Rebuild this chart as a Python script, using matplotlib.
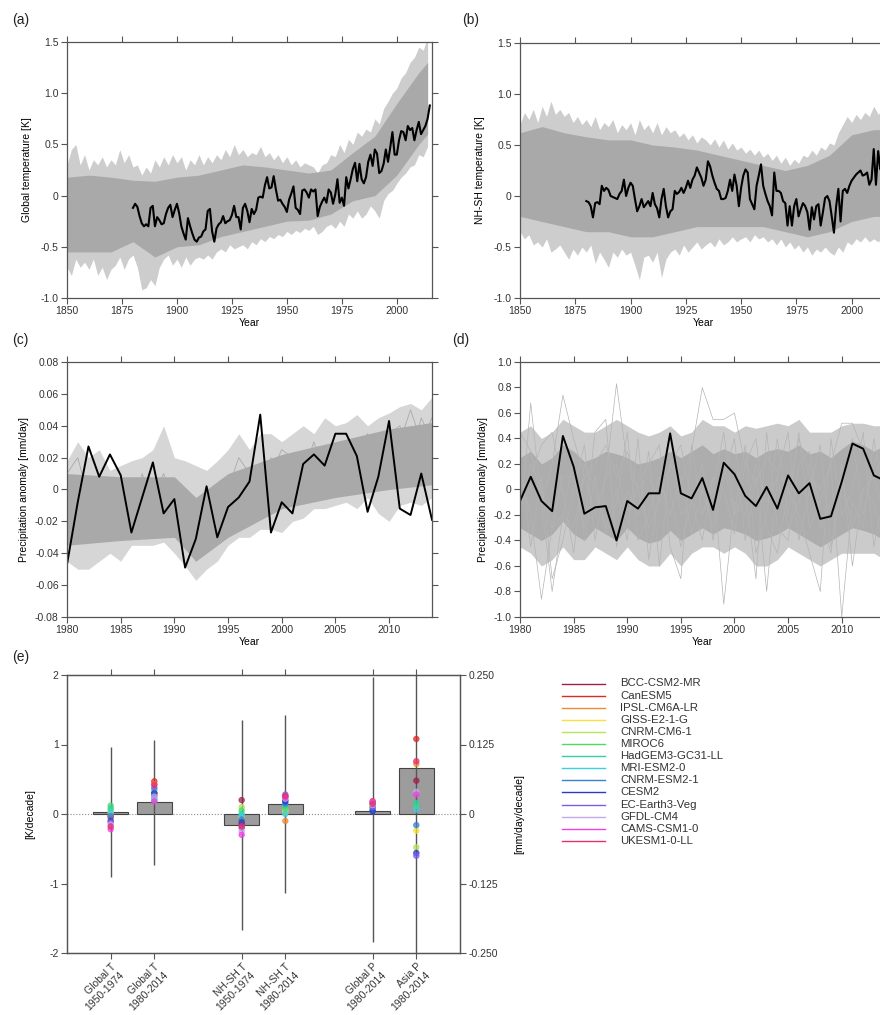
import numpy as np
import matplotlib
matplotlib.use('Agg')
import matplotlib.pyplot as plt
from matplotlib.lines import Line2D

plt.rcParams['font.family'] = ['Liberation Sans', 'DejaVu Sans']
plt.rcParams['font.size'] = 7.5
plt.rcParams['axes.unicode_minus'] = False

# ---- data: panel (a) global temperature ----
model_years = list(range(1850, 2015, 2))
obs_years = list(range(1880, 2016))
obs_a = [-0.12, -0.08, -0.11, -0.20, -0.27, -0.30, -0.28, -0.30, -0.12, -0.10,
         -0.30, -0.21, -0.24, -0.28, -0.27, -0.18, -0.12, -0.09, -0.21, -0.14,
         -0.08, -0.17, -0.30, -0.37, -0.43, -0.22, -0.30, -0.37, -0.43, -0.45,
         -0.41, -0.40, -0.35, -0.33, -0.15, -0.13, -0.35, -0.45, -0.32, -0.28,
         -0.26, -0.20, -0.27, -0.25, -0.24, -0.19, -0.10, -0.21, -0.21, -0.33,
         -0.12, -0.08, -0.15, -0.26, -0.13, -0.18, -0.14, -0.02, -0.01, -0.02,
         0.10, 0.18, 0.07, 0.08, 0.19, 0.06, -0.05, -0.04, -0.08, -0.11,
         -0.16, -0.04, 0.02, 0.09, -0.12, -0.14, -0.18, 0.05, 0.06, 0.03,
         -0.02, 0.06, 0.04, 0.06, -0.20, -0.11, -0.06, -0.02, -0.07, 0.06,
         0.03, -0.08, 0.01, 0.16, -0.07, -0.02, -0.10, 0.18, 0.07, 0.16,
         0.26, 0.32, 0.14, 0.31, 0.16, 0.12, 0.18, 0.33, 0.40, 0.29,
         0.45, 0.41, 0.22, 0.24, 0.31, 0.45, 0.33, 0.47, 0.62, 0.40,
         0.40, 0.54, 0.63, 0.62, 0.54, 0.68, 0.64, 0.66, 0.54, 0.64,
         0.72, 0.60, 0.64, 0.68, 0.75, 0.88]
hi_a = [0.30, 0.45, 0.50, 0.30, 0.40, 0.25, 0.35, 0.30, 0.38, 0.28,
        0.35, 0.30, 0.45, 0.32, 0.40, 0.28, 0.30, 0.20, 0.28, 0.22,
        0.35, 0.28, 0.38, 0.30, 0.40, 0.32, 0.38, 0.25, 0.35, 0.30,
        0.40, 0.30, 0.38, 0.32, 0.40, 0.35, 0.45, 0.38, 0.50, 0.40,
        0.45, 0.38, 0.42, 0.40, 0.48, 0.38, 0.42, 0.35, 0.40, 0.32,
        0.38, 0.30, 0.35, 0.28, 0.32, 0.30, 0.28, 0.22, 0.30, 0.32,
        0.40, 0.38, 0.50, 0.42, 0.55, 0.50, 0.62, 0.58, 0.65, 0.62,
        0.75, 0.70, 0.85, 0.92, 1.00, 1.05, 1.15, 1.20, 1.30, 1.35,
        1.45, 1.42, 1.55]
lo_a = [-0.70, -0.78, -0.62, -0.70, -0.65, -0.72, -0.62, -0.78, -0.70, -0.82,
        -0.72, -0.68, -0.60, -0.72, -0.62, -0.58, -0.70, -0.92, -0.90, -0.82,
        -0.88, -0.70, -0.62, -0.58, -0.68, -0.62, -0.70, -0.60, -0.68, -0.62,
        -0.60, -0.62, -0.58, -0.62, -0.55, -0.52, -0.55, -0.48, -0.52, -0.50,
        -0.48, -0.52, -0.45, -0.48, -0.42, -0.45, -0.40, -0.42, -0.38, -0.40,
        -0.35, -0.38, -0.34, -0.36, -0.32, -0.34, -0.30, -0.38, -0.35, -0.30,
        -0.28, -0.32, -0.25, -0.30, -0.18, -0.22, -0.15, -0.22, -0.18, -0.10,
        -0.15, -0.22, -0.05, 0.02, 0.05, 0.12, 0.18, 0.22, 0.28, 0.30,
        0.40, 0.38, 0.48]
core_years = [1850, 1860, 1870, 1880, 1890, 1900, 1910, 1920, 1930,
              1940, 1950, 1960, 1970, 1980, 1990, 2000, 2010, 2014]
core_hi_a = [0.18, 0.20, 0.18, 0.15, 0.14, 0.18, 0.20, 0.25, 0.30,
             0.28, 0.25, 0.22, 0.25, 0.42, 0.58, 0.90, 1.20, 1.30]
core_lo_a = [-0.55, -0.55, -0.55, -0.45, -0.60, -0.50, -0.48, -0.40, -0.35,
             -0.30, -0.25, -0.24, -0.18, -0.05, 0.00, 0.20, 0.50, 0.60]

# ---- data: panel (b) NH-SH temperature ----
obs_b = [-0.05, -0.06, -0.10, -0.21, -0.07, -0.06, -0.08, 0.10, 0.05, 0.08,
         0.06, 0.00, -0.01, -0.02, -0.03, 0.02, 0.05, 0.16, 0.00, 0.08,
         0.13, 0.10, -0.03, -0.15, -0.10, -0.03, -0.11, -0.08, -0.05, -0.10,
         0.03, -0.08, -0.12, -0.21, -0.03, 0.07, -0.10, -0.21, -0.15, -0.13,
         0.05, 0.02, 0.04, 0.08, 0.03, 0.08, 0.15, 0.08, 0.16, 0.20,
         0.28, 0.23, 0.18, 0.10, 0.16, 0.34, 0.29, 0.20, 0.13, 0.07,
         0.05, -0.03, -0.03, -0.02, 0.05, 0.16, 0.05, 0.21, 0.10, -0.10,
         0.08, 0.20, 0.26, 0.23, -0.03, -0.08, -0.13, 0.10, 0.20, 0.31,
         0.10, 0.02, -0.05, -0.10, -0.19, 0.23, 0.05, 0.05, 0.03, -0.05,
         -0.07, -0.29, -0.10, -0.29, -0.10, -0.03, -0.20, -0.13, -0.07, -0.10,
         -0.16, -0.33, -0.11, -0.23, -0.10, -0.08, -0.29, -0.16, -0.02, 0.00,
         -0.05, -0.20, -0.36, -0.10, 0.07, -0.25, 0.05, 0.07, 0.03, 0.10,
         0.15, 0.18, 0.21, 0.23, 0.25, 0.20, 0.21, 0.23, 0.11, 0.16,
         0.46, 0.11, 0.44, 0.26, 0.30, 0.45]
hi_b = [0.70, 0.82, 0.75, 0.85, 0.72, 0.88, 0.78, 0.93, 0.80, 0.85,
        0.78, 0.82, 0.72, 0.78, 0.70, 0.75, 0.68, 0.78, 0.65, 0.72,
        0.68, 0.75, 0.62, 0.70, 0.65, 0.72, 0.60, 0.75, 0.65, 0.70,
        0.62, 0.72, 0.60, 0.68, 0.62, 0.65, 0.58, 0.62, 0.55, 0.60,
        0.52, 0.58, 0.55, 0.50, 0.56, 0.48, 0.55, 0.46, 0.52, 0.45,
        0.48, 0.42, 0.46, 0.40, 0.45, 0.38, 0.42, 0.35, 0.40, 0.32,
        0.38, 0.30, 0.36, 0.32, 0.40, 0.38, 0.45, 0.40, 0.48, 0.45,
        0.52, 0.50, 0.62, 0.70, 0.78, 0.72, 0.80, 0.75, 0.82, 0.78,
        0.88, 0.80, 0.85]
lo_b = [-0.35, -0.42, -0.38, -0.48, -0.45, -0.50, -0.42, -0.55, -0.52, -0.48,
        -0.55, -0.62, -0.52, -0.58, -0.50, -0.55, -0.48, -0.66, -0.55, -0.62,
        -0.70, -0.55, -0.60, -0.52, -0.58, -0.55, -0.68, -0.82, -0.60, -0.58,
        -0.65, -0.55, -0.80, -0.62, -0.55, -0.52, -0.58, -0.48, -0.55, -0.50,
        -0.45, -0.52, -0.48, -0.45, -0.50, -0.42, -0.48, -0.45, -0.40, -0.45,
        -0.42, -0.40, -0.45, -0.38, -0.42, -0.40, -0.45, -0.42, -0.48, -0.42,
        -0.50, -0.45, -0.52, -0.48, -0.55, -0.50, -0.58, -0.52, -0.55, -0.50,
        -0.55, -0.58, -0.50, -0.55, -0.45, -0.48, -0.42, -0.45, -0.40, -0.45,
        -0.42, -0.45, -0.40]
core_hi_b = [0.62, 0.68, 0.62, 0.58, 0.55, 0.55, 0.50, 0.48, 0.45,
             0.40, 0.35, 0.30, 0.25, 0.30, 0.40, 0.60, 0.65, 0.65]
core_lo_b = [-0.20, -0.25, -0.30, -0.35, -0.35, -0.40, -0.40, -0.35, -0.30,
             -0.30, -0.30, -0.30, -0.35, -0.40, -0.35, -0.25, -0.20, -0.20]

# ---- data: panel (c) global precipitation ----
years_p = list(range(1980, 2015))
obs_c = [-0.047, -0.008, 0.027, 0.008, 0.022, 0.009, -0.027, -0.005, 0.017, -0.015,
         -0.006, -0.049, -0.031, 0.002, -0.030, -0.011, -0.005, 0.005, 0.047, -0.027,
         -0.008, -0.015, 0.016, 0.022, 0.015, 0.035, 0.035, 0.021, -0.014, 0.008,
         0.043, -0.012, -0.016, 0.010, -0.019]
hi_c = [0.018, 0.030, 0.020, 0.025, 0.012, 0.015, 0.018, 0.020, 0.025, 0.040,
        0.020, 0.018, 0.015, 0.012, 0.018, 0.025, 0.035, 0.025, 0.035, 0.035,
        0.030, 0.035, 0.040, 0.035, 0.045, 0.040, 0.042, 0.047, 0.040, 0.045,
        0.048, 0.052, 0.054, 0.050, 0.058]
lo_c = [-0.045, -0.050, -0.050, -0.045, -0.040, -0.045, -0.035, -0.035, -0.035, -0.033,
        -0.040, -0.048, -0.057, -0.050, -0.045, -0.035, -0.030, -0.030, -0.025, -0.025,
        -0.027, -0.020, -0.018, -0.012, -0.012, -0.010, -0.008, -0.012, -0.005, -0.015,
        -0.020, -0.010, -0.008, -0.010, -0.005]
core_years_c = [1980, 1985, 1990, 1992, 1995, 2000, 2005, 2010, 2014]
core_hi_c = [0.010, 0.008, 0.008, -0.005, 0.010, 0.022, 0.030, 0.038, 0.042]
core_lo_c = [-0.035, -0.032, -0.030, -0.045, -0.030, -0.012, -0.005, 0.000, 0.003]
members_c = [
    [-0.020, -0.010, 0.000, -0.015, -0.025, -0.010, -0.020, -0.005, 0.000, -0.015,
     -0.010, -0.030, -0.040, -0.020, -0.025, -0.010, 0.000, -0.005, 0.010, 0.005,
     0.015, 0.000, 0.020, 0.010, 0.025, 0.015, 0.020, 0.030, 0.015, 0.025,
     0.030, 0.020, 0.035, 0.025, 0.040],
    [-0.035, -0.025, -0.030, -0.020, -0.010, -0.025, -0.015, -0.020, -0.005, 0.010,
     -0.010, -0.020, -0.045, -0.035, -0.030, -0.020, -0.015, 0.000, -0.010, 0.020,
     0.005, 0.010, 0.000, 0.020, 0.015, 0.005, 0.030, 0.020, 0.025, 0.010,
     0.035, 0.040, 0.020, 0.045, 0.030],
    [0.010, 0.020, -0.005, 0.000, -0.030, -0.020, -0.025, 0.010, -0.010, -0.020,
     0.000, -0.015, -0.030, -0.010, -0.020, 0.000, 0.020, 0.010, 0.000, 0.010,
     0.025, 0.020, 0.010, 0.030, 0.005, 0.020, 0.010, 0.025, 0.035, 0.020,
     0.015, 0.030, 0.050, 0.030, 0.045],
]

# ---- data: panel (d) Asian precipitation ----
obs_d = [-0.09, 0.10, -0.09, -0.17, 0.42, 0.18, -0.19, -0.14, -0.13, -0.40,
         -0.09, -0.15, -0.03, -0.03, 0.44, -0.03, -0.07, 0.09, -0.16, 0.21,
         0.12, -0.05, -0.13, 0.02, -0.15, 0.11, -0.03, 0.05, -0.23, -0.21,
         0.06, 0.36, 0.32, 0.11, 0.07]
hi_d = [0.45, 0.50, 0.40, 0.45, 0.55, 0.50, 0.45, 0.45, 0.50, 0.55,
        0.50, 0.45, 0.42, 0.45, 0.50, 0.42, 0.45, 0.55, 0.50, 0.50,
        0.45, 0.50, 0.48, 0.50, 0.52, 0.50, 0.55, 0.45, 0.45, 0.45,
        0.50, 0.52, 0.52, 0.50, 0.50]
lo_d = [-0.45, -0.50, -0.60, -0.55, -0.45, -0.55, -0.55, -0.45, -0.50, -0.55,
        -0.45, -0.55, -0.60, -0.60, -0.50, -0.60, -0.50, -0.45, -0.45, -0.50,
        -0.45, -0.50, -0.60, -0.60, -0.55, -0.45, -0.50, -0.55, -0.60, -0.55,
        -0.50, -0.50, -0.50, -0.50, -0.55]
core_hi_d = [0.25, 0.30, 0.20, 0.25, 0.35, 0.30, 0.22, 0.25, 0.30, 0.28,
             0.25, 0.20, 0.22, 0.25, 0.30, 0.25, 0.30, 0.35, 0.28, 0.32,
             0.28, 0.30, 0.25, 0.30, 0.32, 0.30, 0.35, 0.28, 0.30, 0.25,
             0.32, 0.38, 0.35, 0.30, 0.35]
core_lo_d = [-0.30, -0.35, -0.40, -0.35, -0.25, -0.35, -0.40, -0.30, -0.35, -0.40,
             -0.30, -0.38, -0.42, -0.40, -0.32, -0.40, -0.35, -0.30, -0.35, -0.30,
             -0.32, -0.35, -0.40, -0.38, -0.35, -0.30, -0.35, -0.40, -0.45, -0.40,
             -0.35, -0.30, -0.32, -0.35, -0.40]
members_d = [
    [0.45, 0.30, -0.10, 0.20, 0.74, 0.40, 0.10, 0.20, 0.35, 0.10,
     0.30, 0.00, 0.10, -0.10, 0.20, 0.05, 0.30, 0.80, 0.55, 0.55,
     0.60, 0.20, 0.05, 0.25, 0.15, 0.00, 0.40, 0.10, 0.00, 0.20,
     0.52, 0.52, 0.30, 0.10, 0.30],
    [-0.30, 0.68, -0.10, -0.80, -0.20, -0.30, 0.10, -0.20, 0.10, 0.83,
     0.20, 0.00, -0.30, -0.10, 0.00, -0.45, -0.10, -0.20, 0.10, -0.90,
     -0.10, -0.20, 0.20, -0.10, 0.10, -0.30, -0.10, 0.20, -0.30, -0.10,
     0.10, -0.30, 0.00, 0.10, -0.20],
    [0.10, -0.20, -0.86, -0.30, -0.20, 0.25, -0.40, 0.10, -0.35, -0.10,
     0.45, -0.40, -0.20, 0.10, -0.20, 0.10, -0.35, 0.00, -0.30, 0.20,
     -0.20, 0.35, -0.50, -0.20, 0.40, -0.20, 0.45, -0.30, -0.10, 0.20,
     -1.00, -0.10, -0.30, 0.40, -0.10],
    [0.00, 0.10, 0.35, 0.45, 0.00, -0.50, 0.20, 0.00, -0.30, 0.00,
     -0.40, 0.40, -0.55, 0.00, 0.45, -0.20, -0.10, 0.20, -0.40, 0.10,
     0.40, -0.40, 0.10, -0.80, 0.10, 0.45, -0.40, 0.00, 0.35, -0.45,
     0.00, 0.40, -0.20, 0.20, 0.40],
    [-0.20, 0.20, 0.00, -0.30, 0.10, 0.10, -0.30, 0.45, 0.55, -0.45,
     0.00, -0.20, 0.30, -0.60, 0.20, 0.35, -0.10, -0.40, 0.10, 0.00,
     -0.35, 0.20, 0.40, -0.30, -0.50, 0.00, -0.20, -0.50, -0.80, 0.40,
     -0.20, 0.00, 0.45, -0.45, 0.00],
    [0.25, -0.45, 0.10, -0.70, -0.40, 0.00, 0.35, -0.40, 0.10, 0.20,
     -0.25, 0.05, 0.20, 0.35, -0.45, -0.70, 0.35, -0.20, 0.00, 0.45,
     -0.20, 0.00, -0.70, 0.45, -0.30, -0.40, 0.20, 0.30, -0.20, -0.50,
     0.20, -0.60, 0.00, -0.10, -0.50],
]

# ---- data: panel (e) trends ----
trend_labels = ['Global T\n1950-1974', 'Global T\n1980-2014', 'NH-SH T\n1950-1974',
                'NH-SH T\n1980-2014', 'Global P\n1980-2014', 'Asia P\n1980-2014']
trend_pos = [1, 2, 4, 5, 7, 8]
# temperature trends [K/decade]
t_obs = [0.03, 0.17, -0.16, 0.14]
t_low = [-0.90, -0.73, -1.67, -1.13]
t_high = [0.96, 1.06, 1.35, 1.42]
# precipitation trends [mm/day/decade]
p_obs = [0.005, 0.083]
p_low = [-0.23, -0.26]
p_high = [0.247, 0.26]

models = ['BCC-CSM2-MR', 'CanESM5', 'IPSL-CM6A-LR', 'GISS-E2-1-G', 'CNRM-CM6-1',
          'MIROC6', 'HadGEM3-GC31-LL', 'MRI-ESM2-0', 'CNRM-ESM2-1', 'CESM2',
          'EC-Earth3-Veg', 'GFDL-CM4', 'CAMS-CSM1-0', 'UKESM1-0-LL']
model_colors = ['#a0204a', '#e02828', '#f08a30', '#f5e33a', '#b5e35a', '#4cd964',
                '#2ed3a0', '#3ccfe0', '#3a7fd5', '#2a3ac8', '#7c5ce8', '#c6a8f0',
                '#f040e0', '#e8306e']
model_t = [
    [0.00, -0.05, -0.02, 0.03, 0.05, 0.12, 0.08, 0.02, -0.03, -0.10, -0.12, -0.15, -0.22, -0.18],
    [0.30, 0.47, 0.43, 0.25, 0.28, 0.20, 0.35, 0.22, 0.26, 0.30, 0.38, 0.25, 0.18, 0.42],
    [0.20, -0.15, -0.10, -0.05, 0.10, 0.05, 0.00, -0.02, -0.08, -0.12, -0.20, -0.25, -0.30, -0.18],
    [0.25, 0.20, -0.10, 0.05, 0.02, 0.08, 0.12, 0.00, 0.15, 0.18, 0.28, 0.22, 0.24, 0.26],
]
model_p = [
    [0.020, 0.023, 0.018, 0.012, 0.015, 0.010, 0.020, 0.008, 0.006, 0.005, 0.012, 0.016, 0.022, 0.018],
    [0.060, 0.135, 0.090, -0.030, -0.060, 0.015, 0.020, 0.008, -0.020, -0.070, -0.075, 0.040, 0.035, 0.095],
]

# ---- layout helpers (pixel boxes on a 880x1015 canvas) ----
W, H = 880, 1015
fig = plt.figure(figsize=(8.8, 10.15), dpi=100)

def box(l, t, r, b):
    return [l / W, 1 - b / H, (r - l) / W, (b - t) / H]

def style(ax, right=True):
    for s in ax.spines.values():
        s.set_color('#555555')
        s.set_linewidth(0.9)
    ax.tick_params(direction='out', length=4, width=0.8, color='#555555',
                   labelcolor='#333333', labelsize=7.5, pad=2, top=True, right=right)

grey_out = '#cdcdcd'
grey_core = '#a9a9a9'
grey_line = '#b4b4b4'

# (a)
ax = fig.add_axes(box(67, 42, 432, 298))
ax.fill_between(model_years, lo_a, hi_a, color=grey_out, lw=0)
ax.fill_between(core_years, core_lo_a, core_hi_a, color=grey_core, lw=0)
ax.plot(obs_years, obs_a, color='k', lw=1.5)
ax.set_xlim(1850, 2016)
ax.set_ylim(-1.0, 1.5)
ax.set_xticks(range(1850, 2001, 25))
ax.set_yticks([-1.0, -0.5, 0, 0.5, 1.0, 1.5])
ax.set_yticklabels(['-1.0', '-0.5', '0', '0.5', '1.0', '1.5'])
ax.set_xlabel('Year', labelpad=1)
ax.set_ylabel('Global temperature [K]', labelpad=6)
style(ax)

# (b)
ax = fig.add_axes(box(520, 43, 887, 298))
ax.fill_between(model_years, lo_b, hi_b, color=grey_out, lw=0)
ax.fill_between(core_years, core_lo_b, core_hi_b, color=grey_core, lw=0)
ax.plot(obs_years, obs_b, color='k', lw=1.5)
ax.set_xlim(1850, 2016)
ax.set_ylim(-1.0, 1.5)
ax.set_xticks(range(1850, 2001, 25))
ax.set_yticks([-1.0, -0.5, 0, 0.5, 1.0, 1.5])
ax.set_yticklabels(['-1.0', '-0.5', '0', '0.5', '1.0', '1.5'])
ax.set_xlabel('Year', labelpad=1)
ax.set_ylabel('NH-SH temperature [K]', labelpad=6)
style(ax)

# (c)
ax = fig.add_axes(box(67, 362, 432, 617))
ax.fill_between(years_p, lo_c, hi_c, color='#d6d6d6', lw=0)
ax.fill_between(core_years_c, core_lo_c, core_hi_c, color=grey_core, lw=0)
for m in members_c:
    ax.plot(years_p, m, color=grey_core, lw=0.6)
ax.plot(years_p, obs_c, color='k', lw=1.4)
ax.set_xlim(1980, 2014)
ax.set_ylim(-0.08, 0.08)
ax.set_xticks(range(1980, 2011, 5))
cticks = [-0.08, -0.06, -0.04, -0.02, 0, 0.02, 0.04, 0.06, 0.08]
ax.set_yticks(cticks)
ax.set_yticklabels(['%.2f' % v if v != 0 else '0' for v in cticks])
ax.set_xlabel('Year', labelpad=1)
ax.set_ylabel('Precipitation anomaly [mm/day]', labelpad=4)
style(ax)

# (d)
ax = fig.add_axes(box(520, 362, 884.6, 617))
ax.fill_between(years_p, lo_d, hi_d, color='#cbcbcb', lw=0)
ax.fill_between(years_p, core_lo_d, core_hi_d, color='#adadad', lw=0)
for m in members_d:
    ax.plot(years_p, m, color=grey_line, lw=0.5)
ax.plot(years_p, obs_d, color='k', lw=1.4)
ax.set_xlim(1980, 2014)
ax.set_ylim(-1.0, 1.0)
ax.set_xticks(range(1980, 2011, 5))
dticks = [-1.0, -0.8, -0.6, -0.4, -0.2, 0, 0.2, 0.4, 0.6, 0.8, 1.0]
ax.set_yticks(dticks)
ax.set_yticklabels(['%.1f' % v if v != 0 else '0' for v in dticks])
ax.set_xlabel('Year', labelpad=1)
ax.set_ylabel('Precipitation anomaly [mm/day]', labelpad=4)
style(ax)

# (e)
ax = fig.add_axes(box(67, 675, 460, 953))
axr = ax.twinx()
ax.axhline(0, color='#888888', ls=':', lw=0.8, zorder=0)
ax.bar(trend_pos[:4], t_obs, width=0.8, color='#9c9c9c', edgecolor='#444444', lw=0.8, zorder=2)
ax.vlines(trend_pos[:4], t_low, t_high, color='#555555', lw=1.0, zorder=3)
for i in range(4):
    ax.scatter([trend_pos[i]] * len(models), model_t[i], c=model_colors, s=16,
               alpha=0.75, edgecolors=model_colors, lw=0.6, zorder=4)
axr.bar(trend_pos[4:], p_obs, width=0.8, color='#9c9c9c', edgecolor='#444444', lw=0.8, zorder=2)
axr.vlines(trend_pos[4:], p_low, p_high, color='#555555', lw=1.0, zorder=3)
for i in range(2):
    axr.scatter([trend_pos[4 + i]] * len(models), model_p[i], c=model_colors, s=16,
                alpha=0.75, edgecolors=model_colors, lw=0.6, zorder=4)
ax.set_xlim(0, 9)
ax.set_ylim(-2, 2)
axr.set_ylim(-0.25, 0.25)
ax.set_xticks(trend_pos)
ax.set_xticklabels(trend_labels, rotation=45, ha='right', va='top',
                   rotation_mode='anchor', fontsize=7.5)
ax.set_yticks([-2, -1, 0, 1, 2])
axr.set_yticks([-0.25, -0.125, 0, 0.125, 0.25])
axr.set_yticklabels(['-0.250', '-0.125', '0', '0.125', '0.250'])
ax.set_ylabel('[K/decade]', labelpad=10)
axr.set_ylabel('[mm/day/decade]', labelpad=12)
style(ax, right=False)
style(axr)
axr.tick_params(left=False, top=False, bottom=False)

# legend, one row per model
for i, (name, col) in enumerate(zip(models, model_colors)):
    y = 1 - (683.5 + i * 12.1) / H
    fig.add_artist(Line2D([562 / W, 605 / W], [y, y], color=col, lw=1.0))
    fig.text(620 / W, y, name, va='center', ha='left', fontsize=8.2, color='#333333')

# panel letters
for lab, x, y in [('(a)', 12, 20), ('(b)', 462, 20), ('(c)', 12, 340),
                  ('(d)', 452, 340), ('(e)', 12, 657)]:
    fig.text(x / W, 1 - y / H, lab, fontsize=10, va='center', ha='left', color='#222222')

fig.savefig('out.png', dpi=100)
